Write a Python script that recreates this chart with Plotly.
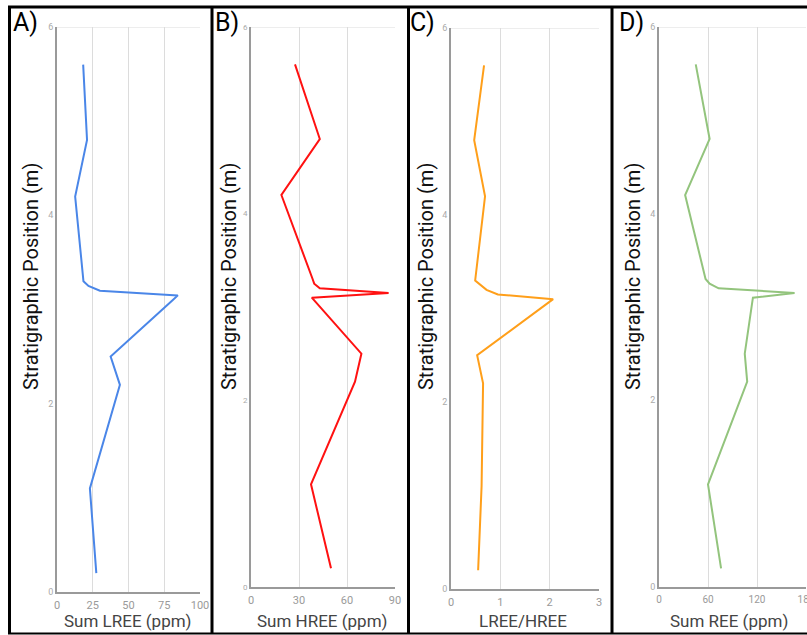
import plotly.graph_objects as go

# ---------------- data ----------------
depth = [0.2, 1.1, 2.2, 2.5, 3.1, 3.15, 3.2, 3.25, 3.3, 4.2, 4.8, 5.6]
sum_lree = [27.5, 23, 44, 37.5, 81, 84.5, 30, 22, 18.5, 12.7, 21, 18.3]
sum_hree = [50, 37.5, 65, 69, 38, 86, 43, 39.5, 38.5, 19, 43, 27.5]
lree_hree = [0.55, 0.62, 0.65, 0.53, 2.07, 0.95, 0.72, 0.6, 0.49, 0.69, 0.47, 0.67]
sum_ree = [76, 60, 108, 105, 115, 166, 73, 62, 57, 32, 62, 45]

panel_labels = ["A)", "B)", "C)", "D)"]
x_titles = ["Sum LREE (ppm)", "Sum HREE (ppm)", "LREE/HREE", "Sum REE (ppm)"]
y_title = "Stratigraphic Position (m)"
x_ticks = [[0, 25, 50, 75, 100], [0, 30, 60, 90], [0, 1, 2, 3], [0, 60, 120, 180]]
y_ticks = [0, 2, 4, 6]
colors = ["#4a86e8", "#ff1111", "#ff9f1a", "#93c47d"]
series = [sum_lree, sum_hree, lree_hree, sum_ree]

# ---------------- layout helpers (pixels -> paper) ----------------
W, H = 807, 635
def px(x):
    return x / W
def py(y):
    return 1 - y / H

# plot areas in pixels: (left, right, top, bottom)
areas = [(57, 200, 27, 592), (251, 395, 27, 587), (451, 599, 28, 589), (659, 806, 27, 587)]
ytitle_x = [31, 229, 426, 633]
xtitle_x = [128, 322, 523, 729]
label_x = [25, 227, 422, 631]
ytick_size = [9, 8, 9, 9]
xtick_size = [11, 11, 11, 10]

fig = go.Figure()
shapes = []
annotations = []
for i in range(4):
    l, r, t, b = areas[i]
    xa = "x" if i == 0 else f"x{i+1}"
    ya = "y" if i == 0 else f"y{i+1}"
    fig.add_trace(go.Scatter(x=series[i], y=depth, mode="lines",
                             line=dict(color=colors[i], width=2),
                             xaxis=xa, yaxis=ya, showlegend=False,
                             hoverinfo="x+y"))
    xk = "xaxis" if i == 0 else f"xaxis{i+1}"
    yk = "yaxis" if i == 0 else f"yaxis{i+1}"
    fig.layout[xk] = dict(domain=[px(l), px(r)], anchor=ya, automargin=False,
                          range=[x_ticks[i][0], x_ticks[i][-1]],
                          tickvals=x_ticks[i], showgrid=True,
                          gridcolor="#dcdcdc", gridwidth=1,
                          showline=True, linecolor="#9a9a9a", linewidth=2,
                          zeroline=False, ticks="", ticklabeloverflow="allow",
                          ticklabelstandoff=2,
                          tickfont=dict(family="Roboto", size=xtick_size[i], color="#9a9a9a"))
    fig.layout[yk] = dict(domain=[py(b), py(t)], anchor=xa, automargin=False,
                          range=[0, 6], tickvals=y_ticks, showgrid=False,
                          showline=True, linecolor="#9a9a9a", linewidth=2,
                          zeroline=False, ticks="", ticklabeloverflow="allow",
                          tickfont=dict(family="Roboto", size=ytick_size[i], color="#aaaaaa"))
    # top frame line at y=6
    shapes.append(dict(type="line", xref=xa, yref=ya, x0=x_ticks[i][0], x1=x_ticks[i][-1],
                       y0=6, y1=6, line=dict(color="#dcdcdc", width=1)))
    annotations.append(dict(text=y_title, xref="paper", yref="paper",
                            x=px(ytitle_x[i]), y=py(277), textangle=-90,
                            showarrow=False, xanchor="center", yanchor="middle",
                            font=dict(family="Roboto", size=20, color="#111111")))
    annotations.append(dict(text=x_titles[i], xref="paper", yref="paper",
                            x=px(xtitle_x[i]), y=py(621), showarrow=False,
                            xanchor="center", yanchor="middle",
                            font=dict(family="Roboto", size=17, color="#444444")))
    annotations.append(dict(text=panel_labels[i], xref="paper", yref="paper",
                            x=px(label_x[i]), y=py(22), showarrow=False,
                            xanchor="center", yanchor="middle",
                            font=dict(family="Roboto", size=25, color="#000000")))

# black panel borders
def pline(x0, y0, x1, y1, w=3):
    return dict(type="line", xref="paper", yref="paper", x0=px(x0), y0=py(y0),
                x1=px(x1), y1=py(y1), line=dict(color="#000000", width=w))
shapes.append(pline(8, 7, 807, 7))
shapes.append(pline(9.5, 7, 9.5, 634))
for sx in [212, 408.5, 612]:
    shapes.append(pline(sx, 7, sx, 634))
shapes.append(pline(8, 633.5, 807, 633.5, 2))

fig.update_layout(width=W, height=H, margin=dict(l=0, r=0, t=0, b=0, autoexpand=False),
                  paper_bgcolor="white", plot_bgcolor="white",
                  shapes=shapes, annotations=annotations,
                  font=dict(family="Roboto"))
fig.write_html("out.html")
